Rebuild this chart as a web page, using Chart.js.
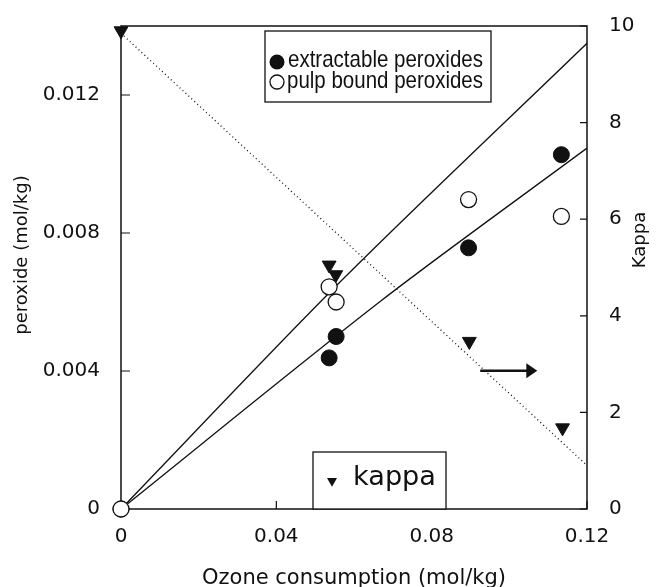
<!DOCTYPE html>
<html>
<head>
<meta charset="utf-8">
<script src="https://cdn.jsdelivr.net/npm/chart.js@4.4.0/dist/chart.umd.min.js"></script>
<style>
html, body { margin: 0; padding: 0; background: #fff; }
#wrap { width: 666px; height: 587px; }
</style>
</head>
<body>
<div id="wrap"><canvas id="ozoneChart"></canvas></div>
<script>
// valores
const ozone = [0, 0.0536, 0.0554, 0.0895, 0.1134];
const extractable = [0, 0.00438, 0.0050, 0.00757, 0.01027];
const pulpBound = [0, 0.00644, 0.0060, 0.00897, 0.00848];
const kappaX = [0, 0.0536, 0.0553, 0.0897, 0.1137];
const kappa = [9.9, 5.05, 4.85, 3.47, 1.68];

// linhas de ajuste
const fitUpperX = [0, 0.0564, 0.12];
const fitUpperY = [0, 0.00658, 0.0135];
const fitLowerX = [0, 0.0669, 0.12];
const fitLowerY = [0, 0.00603, 0.01046];
const kappaTrendX = [0, 0.12];
const kappaTrendY = [9.85, 0.9];

// seta para o eixo da direita
const arrowX = [0.0925, 0.1072];
const arrowKappa = 2.86;

const xTicks = [0, 0.04, 0.08, 0.12];
const xTickLabels = ['0', '0.04', '0.08', '0.12'];
const yTicks = [0, 0.004, 0.008, 0.012];
const yTickLabels = ['0', '0.004', '0.008', '0.012'];
const kappaTicks = [0, 2, 4, 6, 8, 10];
const kappaTickLabels = ['0', '2', '4', '6', '8', '10'];

const INK = '#111';
const TICK_FONT = { family: 'DejaVu Sans', size: 20 };

function pts(xs, ys) {
    return xs.map((x, i) => ({ x: x, y: ys[i] }));
}

function fillFit(ctx, text, x, y, w) {
    const natural = ctx.measureText(text).width;
    ctx.save();
    ctx.translate(x, y);
    ctx.scale(w / natural, 1);
    ctx.fillText(text, 0, 0);
    ctx.restore();
}

function triangleDown(ctx, cx, cy, r) {
    ctx.beginPath();
    ctx.moveTo(cx, cy + r);
    ctx.lineTo(cx - r * 0.866, cy - r / 2);
    ctx.lineTo(cx + r * 0.866, cy - r / 2);
    ctx.closePath();
    ctx.fill();
}

// moldura, marcas internas dos eixos
const framePlugin = {
    id: 'frame',
    beforeDatasetsDraw(chart) {
        const { ctx, chartArea: ca, scales } = chart;
        ctx.save();
        ctx.strokeStyle = INK;
        ctx.lineWidth = 1.5;
        ctx.strokeRect(ca.left, ca.top, ca.right - ca.left, ca.bottom - ca.top);
        ctx.lineWidth = 1.2;
        ctx.beginPath();
        yTicks.forEach(v => {
            const y = scales.y.getPixelForValue(v);
            ctx.moveTo(ca.left, y);
            ctx.lineTo(ca.left + 9, y);
        });
        kappaTicks.forEach(v => {
            const y = scales.kappa.getPixelForValue(v);
            ctx.moveTo(ca.right, y);
            ctx.lineTo(ca.right - 7, y);
        });
        xTicks.forEach(v => {
            const x = scales.x.getPixelForValue(v);
            ctx.moveTo(x, ca.bottom);
            ctx.lineTo(x, ca.bottom - 8);
        });
        ctx.stroke();
        ctx.restore();
    },
    afterDatasetsDraw(chart) {
        const { ctx, scales } = chart;
        ctx.save();
        ctx.fillStyle = INK;
        ctx.strokeStyle = INK;

        // seta
        const ay = scales.kappa.getPixelForValue(arrowKappa);
        const ax0 = scales.x.getPixelForValue(arrowX[0]);
        const ax1 = scales.x.getPixelForValue(arrowX[1]);
        ctx.lineWidth = 2.5;
        ctx.beginPath();
        ctx.moveTo(ax0, ay);
        ctx.lineTo(ax1 - 8, ay);
        ctx.stroke();
        ctx.beginPath();
        ctx.moveTo(ax1, ay);
        ctx.lineTo(ax1 - 11, ay - 7.5);
        ctx.lineTo(ax1 - 11, ay + 7.5);
        ctx.closePath();
        ctx.fill();

        // legenda de cima
        ctx.lineWidth = 1.3;
        ctx.fillStyle = '#fff';
        ctx.fillRect(265, 31, 226, 71);
        ctx.strokeRect(265, 31, 226, 71);
        ctx.fillStyle = INK;
        ctx.beginPath();
        ctx.arc(277, 62, 7.5, 0, Math.PI * 2);
        ctx.fill();
        ctx.beginPath();
        ctx.arc(277, 82, 7, 0, Math.PI * 2);
        ctx.stroke();
        ctx.font = '24px "Liberation Sans", Arial, sans-serif';
        ctx.textBaseline = 'alphabetic';
        fillFit(ctx, 'extractable peroxides', 288, 67, 195);
        fillFit(ctx, 'pulp bound peroxides', 287, 88, 196);

        // legenda kappa
        ctx.fillStyle = '#fff';
        ctx.fillRect(313, 452, 133, 57);
        ctx.strokeRect(313, 452, 133, 57);
        ctx.fillStyle = INK;
        triangleDown(ctx, 332, 481, 5.8);
        ctx.font = '26px "DejaVu Sans", sans-serif';
        fillFit(ctx, 'kappa', 353, 485, 83);
        ctx.restore();
    },
    afterDraw(chart) {
        const { ctx } = chart;
        ctx.save();
        ctx.fillStyle = INK;
        ctx.font = '18px "DejaVu Sans", sans-serif';
        ctx.textAlign = 'center';
        ctx.textBaseline = 'middle';
        ctx.translate(22, 255);
        ctx.rotate(-Math.PI / 2);
        ctx.fillText('peroxide (mol/kg)', 0, 0);
        ctx.restore();
        ctx.save();
        ctx.fillStyle = INK;
        ctx.font = '18px "DejaVu Sans", sans-serif';
        ctx.textAlign = 'center';
        ctx.textBaseline = 'middle';
        ctx.translate(640, 240);
        ctx.rotate(-Math.PI / 2);
        ctx.fillText('Kappa', 0, 0);
        ctx.restore();
    }
};

document.addEventListener('DOMContentLoaded', function() {
    const ctx = document.getElementById('ozoneChart');
    new Chart(ctx, {
        type: 'scatter',
        data: {
            datasets: [
                {
                    label: 'pulp bound peroxides',
                    data: pts(ozone, pulpBound),
                    yAxisID: 'y',
                    pointStyle: 'circle',
                    pointRadius: 8,
                    pointBackgroundColor: '#fff',
                    pointBorderColor: INK,
                    pointBorderWidth: 1.3,
                    clip: false,
                    order: 0
                },
                {
                    label: 'extractable peroxides',
                    data: pts(ozone, extractable),
                    yAxisID: 'y',
                    pointStyle: 'circle',
                    pointRadius: 8,
                    pointBackgroundColor: INK,
                    pointBorderColor: INK,
                    pointBorderWidth: 1,
                    clip: false,
                    order: 1
                },
                {
                    label: 'kappa',
                    data: pts(kappaX, kappa),
                    yAxisID: 'kappa',
                    pointStyle: 'triangle',
                    rotation: 180,
                    pointRadius: 8,
                    pointBackgroundColor: INK,
                    pointBorderColor: INK,
                    pointBorderWidth: 1,
                    clip: false,
                    order: 1
                },
                {
                    label: 'fit pulp',
                    data: pts(fitUpperX, fitUpperY),
                    yAxisID: 'y',
                    showLine: true,
                    borderColor: INK,
                    borderWidth: 1.3,
                    pointRadius: 0,
                    tension: 0.3,
                    order: 5
                },
                {
                    label: 'fit extractable',
                    data: pts(fitLowerX, fitLowerY),
                    yAxisID: 'y',
                    showLine: true,
                    borderColor: INK,
                    borderWidth: 1.3,
                    pointRadius: 0,
                    tension: 0.3,
                    order: 5
                },
                {
                    label: 'kappa trend',
                    data: pts(kappaTrendX, kappaTrendY),
                    yAxisID: 'kappa',
                    showLine: true,
                    borderColor: INK,
                    borderWidth: 1.3,
                    borderDash: [1, 3],
                    pointRadius: 0,
                    order: 5
                }
            ]
        },
        options: {
            responsive: true,
            maintainAspectRatio: false,
            animation: false,
            layout: { padding: { top: 22, left: 0, right: 0, bottom: 0 } },
            plugins: {
                legend: { display: false },
                tooltip: { enabled: false }
            },
            scales: {
                x: {
                    type: 'linear',
                    min: 0,
                    max: 0.12,
                    afterBuildTicks: s => { s.ticks = xTicks.map(v => ({ value: v })); },
                    afterFit: s => { s.height = 78; },
                    grid: { display: false },
                    border: { display: false },
                    ticks: {
                        color: INK,
                        font: TICK_FONT,
                        padding: 8,
                        maxRotation: 0,
                        callback: (v, i) => xTickLabels[i]
                    },
                    title: {
                        display: true,
                        text: 'Ozone consumption (mol/kg)',
                        color: INK,
                        font: { family: 'DejaVu Sans', size: 21, lineHeight: 1 },
                        padding: { top: 0, bottom: -2.5 }
                    }
                },
                y: {
                    type: 'linear',
                    position: 'left',
                    min: 0,
                    max: 0.014,
                    afterBuildTicks: s => { s.ticks = yTicks.map(v => ({ value: v })); },
                    afterFit: s => { s.width = 121; },
                    grid: { display: false },
                    border: { display: false },
                    ticks: {
                        color: INK,
                        font: TICK_FONT,
                        padding: 13,
                        callback: (v, i) => yTickLabels[i]
                    }
                },
                kappa: {
                    type: 'linear',
                    position: 'right',
                    min: 0,
                    max: 10,
                    afterBuildTicks: s => { s.ticks = kappaTicks.map(v => ({ value: v })); },
                    afterFit: s => { s.width = 79; },
                    grid: { display: false },
                    border: { display: false },
                    ticks: {
                        color: INK,
                        font: TICK_FONT,
                        padding: 14,
                        callback: (v, i) => kappaTickLabels[i]
                    }
                }
            }
        },
        plugins: [framePlugin]
    });
});
</script>
</body>
</html>
